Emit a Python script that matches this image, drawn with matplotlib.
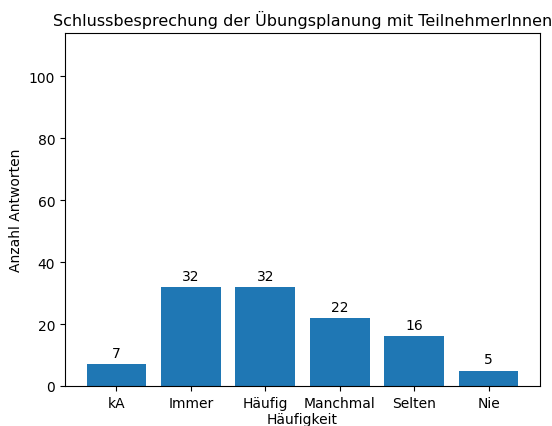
import matplotlib
matplotlib.use("Agg")
import matplotlib.pyplot as plt

kategorien = ["kA", "Immer", "Häufig", "Manchmal", "Selten", "Nie"]
antworten = [7, 32, 32, 22, 16, 5]

fig = plt.figure(figsize=(5.52, 4.27), dpi=100)
ax = fig.add_axes([65 / 552, 40 / 427, 475 / 552, 353 / 427])

balken = ax.bar(kategorien, antworten, color="#1f77b4")
for b, wert in zip(balken, antworten):
    ax.annotate(str(wert), (b.get_x() + b.get_width() / 2, b.get_height()),
                xytext=(0, 3), textcoords="offset points",
                ha="center", va="bottom", fontsize=10)

ax.set_ylim(0, sum(antworten))
ax.set_title("Schlussbesprechung der Übungsplanung mit TeilnehmerInnen", fontsize=11.5)
ax.set_ylabel("Anzahl Antworten")
ax.set_xlabel("Häufigkeit", labelpad=2)

fig.savefig("out.png", dpi=100)
